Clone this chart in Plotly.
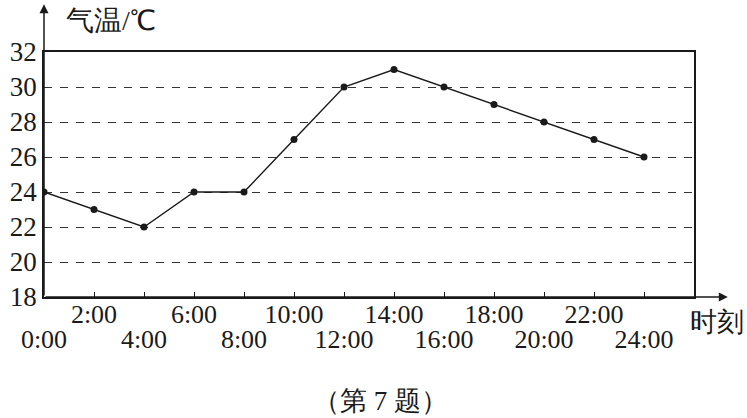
import plotly.graph_objects as go

hours = [0, 2, 4, 6, 8, 10, 12, 14, 16, 18, 20, 22, 24]
temps = [24, 23, 22, 24, 24, 27, 30, 31, 30, 29, 28, 27, 26]
tick_labels = ["0:00", "2:00", "4:00", "6:00", "8:00", "10:00", "12:00",
               "14:00", "16:00", "18:00", "20:00", "22:00", "24:00"]
y_ticks = [18, 20, 22, 24, 26, 28, 30, 32]
x_range = [0, 26]
y_range = [18, 32]

upper_vals = [h for h in hours if h % 4 == 2]
upper_text = [tick_labels[hours.index(h)] for h in upper_vals]

INK = "#1a1a1a"
SERIF = "Liberation Serif"

fig = go.Figure()
fig.add_trace(go.Scatter(
    x=hours, y=temps, mode="lines+markers",
    line=dict(color=INK, width=1.4),
    marker=dict(color=INK, size=7),
    showlegend=False, xaxis="x", yaxis="y"))
fig.add_trace(go.Scatter(x=[hours[0]], y=[temps[0]], mode="markers",
                         marker=dict(opacity=0), showlegend=False,
                         xaxis="x2", yaxis="y", hoverinfo="skip"))

fig.update_layout(
    width=747, height=418,
    margin=dict(l=44, r=53, t=52, b=121, autoexpand=False),
    paper_bgcolor="white", plot_bgcolor="white",
    font=dict(family=SERIF, color=INK, size=26),
    xaxis=dict(range=x_range, tickvals=hours,
               ticktext=[t if h % 4 == 0 else "" for h, t in zip(hours, tick_labels)],
               ticks="inside", ticklen=5, tickcolor=INK, tickwidth=1.2,
               showline=True, linecolor=INK, linewidth=1.5, mirror=True,
               showgrid=False, zeroline=False, automargin=False,
               ticklabelstandoff=18,
               tickfont=dict(family=SERIF, size=26, color=INK)),
    xaxis2=dict(range=x_range, overlaying="x", anchor="y", side="bottom",
                tickvals=upper_vals, ticktext=upper_text, automargin=False,
                ticks="", showline=False, showgrid=False, zeroline=False,
                ticklabelstandoff=-1,
                tickfont=dict(family=SERIF, size=26, color=INK)),
    yaxis=dict(range=y_range, tickmode="array", tickvals=y_ticks,
               ticktext=[str(v) for v in y_ticks],
               ticks="", showline=True, linecolor=INK, linewidth=1.5, mirror=True,
               showgrid=True, gridcolor="#333333", gridwidth=1.2,
               griddash="8px,8px", zeroline=False, automargin=False,
               ticklabelstandoff=0,
               tickfont=dict(family="Liberation Serif", size=27, color=INK)),
)

# axis arrows
fig.add_annotation(xref="x domain", yref="y domain", axref="x domain", ayref="y domain",
                   x=0, y=1.195, ax=0, ay=0, showarrow=True, arrowhead=2,
                   arrowsize=1.2, arrowwidth=1.5, arrowcolor=INK, text="")
fig.add_annotation(xref="x domain", yref="y domain", axref="x domain", ayref="y domain",
                   x=1.052, y=0, ax=0, ay=0, showarrow=True, arrowhead=2,
                   arrowsize=1.2, arrowwidth=1.5, arrowcolor=INK, text="")

fig.add_annotation(xref="x domain", yref="y domain", x=0.03, y=1.13, yanchor="middle",
                   xanchor="left", text="气温/℃", showarrow=False,
                   font=dict(family=SERIF, size=28, color=INK))
fig.add_annotation(xref="x domain", yref="y domain", x=1.0, y=0, xanchor="left",
                   yanchor="middle", text="时刻", showarrow=False, xshift=-6, yshift=-25,
                   font=dict(family=SERIF, size=27, color=INK))
fig.add_annotation(xref="paper", yref="paper", x=0.517, y=0, yanchor="middle",
                   xanchor="center", text="（第 7 题）", showarrow=False, yshift=-104,
                   font=dict(family=SERIF, size=27, color=INK))

fig.write_html("out.html", config={"displayModeBar": False},
               post_script="document.body.style.margin='0';")
